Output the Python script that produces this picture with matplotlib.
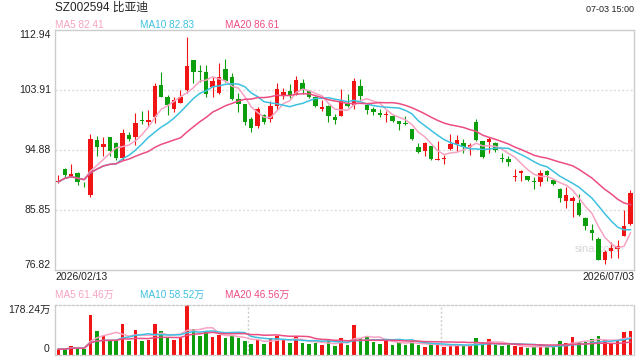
import numpy as np
import pandas as pd
import matplotlib
matplotlib.use("Agg")
import matplotlib.pyplot as plt

plt.rcParams['font.family'] = ['Liberation Sans', 'Noto Sans CJK SC', 'DejaVu Sans']

TITLE = "SZ002594 比亚迪"
TIMESTAMP = "07-03 15:00"
START_DATE = "2026/02/13"
END_DATE = "2026/07/03"

# daily OHLC
opens = [89.98, 92.02, 90.87, 91.37, 89.61, 88.01, 96.39, 95.23, 96.84, 95.88,
         93.58, 97.09, 96.74, 99.29, 98.99, 99.79, 104.66, 102.86, 101.10, 102.00,
         103.91, 108.43, 106.72, 106.62, 104.41, 103.51, 107.07, 105.87, 102.56, 101.80,
         99.49, 98.49, 100.10, 99.49, 101.50, 103.11, 103.76, 103.31, 104.96, 103.76,
         102.81, 101.10, 101.50, 99.79, 100.00, 101.80, 101.60, 104.51, 101.65, 101.05,
         100.40, 100.10, 100.00, 99.24, 98.89, 98.04, 95.33, 94.68, 95.38, 93.32,
         93.48, 95.03, 95.78, 95.88, 95.33, 98.99, 96.18, 95.98, 95.88, 93.58,
         93.53, 90.84, 91.37, 90.97, 90.11, 89.96, 91.62, 90.32, 89.01, 87.10,
         87.10, 86.85, 84.60, 82.84, 81.44, 78.22, 79.58, 79.98, 81.94, 83.74]
closes = [90.03, 91.12, 91.27, 89.96, 89.51, 96.54, 95.28, 95.78, 94.63, 93.63,
          97.44, 96.54, 98.94, 99.19, 99.39, 104.51, 102.91, 101.65, 102.41, 102.86,
          107.52, 106.67, 106.62, 103.26, 105.31, 105.92, 105.26, 102.56, 101.80, 98.99,
          98.09, 101.05, 98.99, 101.50, 104.06, 103.61, 103.11, 105.42, 103.91, 102.91,
          101.55, 101.30, 99.90, 99.39, 102.20, 101.50, 105.26, 103.06, 100.80, 100.50,
          100.05, 100.30, 99.29, 98.69, 98.69, 96.44, 94.53, 95.88, 93.43, 93.37,
          93.53, 95.78, 96.39, 95.23, 95.63, 96.28, 93.73, 96.48, 94.88, 93.48,
          93.07, 90.90, 91.72, 90.27, 89.96, 91.37, 91.02, 89.66, 87.56, 88.11,
          87.61, 85.00, 83.34, 82.34, 78.32, 79.43, 80.08, 80.33, 83.44, 88.36]
highs = [91.12, 92.07, 92.77, 91.47, 89.96, 97.29, 96.99, 96.79, 96.84, 96.08,
         98.04, 97.49, 100.40, 100.70, 100.90, 105.01, 106.67, 103.11, 102.91, 103.91,
         111.94, 108.43, 107.67, 107.67, 105.92, 108.02, 108.53, 106.52, 103.41, 101.80,
         99.79, 101.30, 100.30, 102.25, 105.01, 104.16, 104.81, 106.02, 105.52, 103.91,
         103.06, 102.41, 101.60, 100.20, 104.01, 103.31, 105.67, 105.52, 101.80, 101.30,
         101.00, 100.70, 100.15, 99.24, 99.99, 98.04, 95.88, 95.98, 95.38, 96.18,
         94.13, 97.24, 97.14, 96.48, 95.88, 99.50, 96.18, 96.79, 95.98, 94.38,
         93.98, 91.97, 91.87, 90.97, 90.77, 91.87, 91.77, 90.47, 89.11, 89.26,
         87.86, 88.26, 84.75, 83.74, 81.74, 79.73, 80.93, 81.24, 85.75, 88.86]
lows = [89.86, 90.77, 90.87, 89.61, 89.21, 87.76, 93.98, 93.88, 93.88, 93.37,
        93.27, 96.13, 95.63, 98.79, 98.39, 98.89, 102.81, 100.05, 100.50, 101.90,
        103.41, 104.91, 105.06, 102.91, 102.91, 103.31, 105.06, 102.41, 100.50, 98.64,
        97.54, 98.14, 98.79, 99.04, 100.90, 102.56, 102.66, 103.21, 103.26, 102.66,
        101.40, 100.65, 98.99, 98.69, 99.90, 101.40, 101.00, 102.41, 100.20, 100.10,
        99.79, 98.99, 99.14, 97.79, 98.54, 96.28, 94.38, 93.88, 93.27, 93.27,
        92.72, 94.88, 94.63, 94.38, 94.13, 96.18, 93.63, 94.38, 94.53, 93.07,
        92.37, 90.21, 90.11, 90.11, 88.96, 89.36, 90.11, 89.51, 87.00, 86.10,
        84.70, 84.85, 82.84, 81.34, 78.22, 77.67, 78.57, 78.57, 81.84, 83.59]
# volume in 万 (10k shares)
volumes = [19.3, 19.3, 30.1, 22.9, 20.5, 143.3, 84.3, 67.4, 51.8, 51.8,
           110.8, 48.2, 87.9, 49.4, 51.8, 110.8, 84.3, 57.8, 51.8, 61.4,
           178.24, 91.5, 67.4, 80.7, 63.8, 71.1, 59.0, 67.4, 60.2, 49.4,
           38.5, 53.0, 38.5, 59.0, 67.4, 53.0, 42.2, 63.8, 42.2, 38.5,
           42.2, 33.7, 49.4, 31.3, 60.2, 34.9, 107.2, 57.8, 66.2, 45.8,
           38.5, 51.8, 34.9, 45.8, 34.9, 49.4, 34.9, 27.7, 37.0, 33.7,
           27.0, 32.5, 33.7, 33.7, 31.3, 59.0, 44.6, 55.4, 33.7, 30.1,
           33.7, 30.1, 26.5, 22.9, 26.5, 36.1, 26.5, 27.7, 48.2, 39.7,
           62.6, 44.6, 44.6, 55.4, 66.2, 51.8, 39.7, 48.2, 80.7, 84.3]

price_ticks = [112.94, 103.91, 94.88, 85.85, 76.82]
vol_max = 178.24
ma_windows = [5, 10, 20]
ma_price_labels = ["MA5 82.41", "MA10 82.83", "MA20 86.61"]
ma_vol_labels = ["MA5 61.46万", "MA10 58.52万", "MA20 46.56万"]

UP = '#f01414'
DOWN = '#0c9e0c'
MA_COLORS = ['#f7a3c3', '#3ec1e0', '#ec4d82']
BORDER = '#cccccc'
GRID = '#dddddd'
W, H = 640, 360


def fx(px):
    return px / W


def fy(py):
    return 1 - py / H


o = np.array(opens)
c = np.array(closes)
h = np.array(highs)
l = np.array(lows)
v = np.array(volumes)
x = np.arange(len(c))
cols = np.where(c >= o, UP, DOWN)

fig = plt.figure(figsize=(6.4, 3.6), dpi=100)
ax = fig.add_axes([fx(54.5), fy(269.5), fx(634 - 54.5), (269.5 - 30) / H])
axv = fig.add_axes([fx(54.5), fy(354.5), fx(634 - 54.5), (354.5 - 305) / H])

# --- price panel
ax.vlines(x, l, h, colors=cols, lw=0.8, zorder=2)
body_low = np.minimum(o, c)
body_h = np.maximum(np.abs(c - o), 0.12)
ax.bar(x, body_h, bottom=body_low, width=0.68, color=cols, lw=0, zorder=3)

s = pd.Series(c)
for w, colr in zip(ma_windows, MA_COLORS):
    ax.plot(x, s.rolling(w, min_periods=1).mean(), color=colr, lw=1.1, zorder=4)

for t in price_ticks[1:-1]:
    ax.axhline(t, color=GRID, lw=1.0, ls=(0, (1.5, 1.5)), zorder=1)

ax.set_xlim(-0.6, len(c) - 0.45)
ax.set_ylim(price_ticks[-1], price_ticks[0])
ax.set_xticks([])
ax.set_yticks([])
for sp in ax.spines.values():
    sp.set_color(BORDER)
    sp.set_linewidth(1.0)

ytr = ax.get_yaxis_transform()
for i, t in enumerate(price_ticks):
    va = 'top' if i == 0 else ('bottom' if i == len(price_ticks) - 1 else 'center')
    ax.text(-0.006, t, f"{t:.2f}", transform=ytr, ha='right', va=va,
            fontsize=7.5, color='#222222')

ax.text(0.936, 0.085, "sina.com", transform=ax.transAxes, ha='center', va='center',
        fontsize=8, color='#d6d6d6', zorder=1)

# --- volume panel
axv.bar(x, v, width=0.55, color=cols, lw=0, zorder=2)
sv = pd.Series(v)
for w, colr in zip(ma_windows, MA_COLORS):
    axv.plot(x, sv.rolling(w, min_periods=1).mean(), color=colr, lw=1.1, zorder=3)

axv.set_xlim(ax.get_xlim())
axv.set_ylim(0, vol_max)
axv.set_xticks([])
axv.set_yticks([])
for name, sp in axv.spines.items():
    sp.set_color(BORDER)
    sp.set_linewidth(1.0)
    if name in ('top', 'bottom'):
        sp.set_linestyle((0, (1.5, 1.5)))
for gx in (29.5, 59.6):
    axv.axvline(gx, color=BORDER, lw=1.0, ls=(0, (1.5, 1.5)), zorder=1)

vtr = axv.get_yaxis_transform()
axv.text(-0.006, vol_max, f"{vol_max:.2f}万", transform=vtr, ha='right', va='top',
         fontsize=7.5, color='#222222')
axv.text(-0.009, 0, "0", transform=vtr, ha='right', va='bottom',
         fontsize=7.5, color='#222222')

# --- header and footer texts
fig.text(fx(55), fy(7.5), TITLE, ha='left', va='center', fontsize=8.5, color='#222222')
fig.text(fx(634), fy(10), TIMESTAMP, ha='right', va='center', fontsize=6.5, color='#222222')
for xp, lab, colr in zip([55, 140, 225], ma_price_labels, MA_COLORS):
    fig.text(fx(xp), fy(24.5), lab, ha='left', va='center', fontsize=7.2, color=colr)
for xp, lab, colr in zip([55, 140, 225], ma_vol_labels, MA_COLORS):
    fig.text(fx(xp), fy(295), lab, ha='left', va='center', fontsize=7.2, color=colr)
fig.text(fx(55), fy(277.5), START_DATE, ha='left', va='center', fontsize=7.5, color='#222222')
fig.text(fx(634), fy(277.5), END_DATE, ha='right', va='center', fontsize=7.5, color='#222222')

fig.savefig("out.png", dpi=100)
